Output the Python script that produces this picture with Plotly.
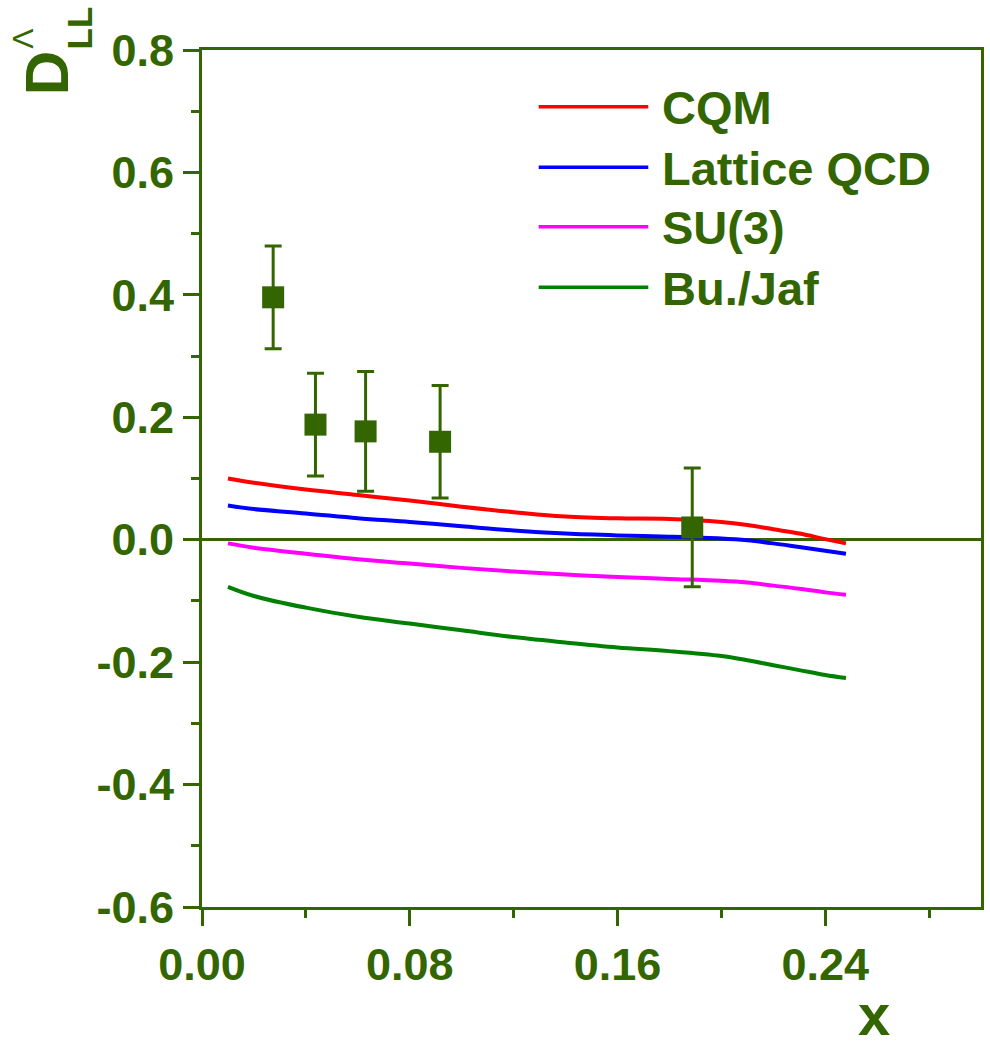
import plotly.graph_objects as go

# ---------------- data ----------------
series_names = ["CQM", "Lattice QCD", "SU(3)", "Bu./Jaf"]
series_colors = ["#FF0000", "#0000FF", "#FF00FF", "#008000"]

x_curve = [0.01, 0.02, 0.04, 0.06, 0.08, 0.10, 0.12, 0.14, 0.16, 0.18,
           0.20, 0.21, 0.22, 0.23, 0.24, 0.248]
cqm = [0.100, 0.093, 0.082, 0.073, 0.064, 0.054, 0.045, 0.038, 0.035, 0.034,
       0.029, 0.024, 0.017, 0.010, 0.001, -0.006]
lattice = [0.056, 0.050, 0.043, 0.035, 0.029, 0.022, 0.015, 0.010, 0.007, 0.005,
           0.002, -0.001, -0.006, -0.012, -0.018, -0.023]
su3 = [-0.006, -0.013, -0.023, -0.032, -0.039, -0.046, -0.052, -0.057, -0.061, -0.064,
       -0.067, -0.070, -0.075, -0.080, -0.086, -0.090]
bujaf = [-0.077, -0.092, -0.111, -0.126, -0.137, -0.148, -0.159, -0.168, -0.176, -0.182,
         -0.190, -0.197, -0.205, -0.213, -0.221, -0.226]
curves = [cqm, lattice, su3, bujaf]

x_data = [0.0274, 0.0437, 0.063, 0.0917, 0.1888]
y_data = [0.396, 0.188, 0.177, 0.160, 0.020]
y_err = [0.084, 0.084, 0.098, 0.092, 0.097]

x_tickvals = [0.00, 0.08, 0.16, 0.24]
x_ticktext = ["0.00", "0.08", "0.16", "0.24"]
y_tickvals = [-0.6, -0.4, -0.2, 0.0, 0.2, 0.4, 0.6, 0.8]
y_ticktext = ["-0.6", "-0.4", "-0.2", "0.0", "0.2", "0.4", "0.6", "0.8"]

# ---------------- style ----------------
DG = "#336600"
FONT = "Liberation Sans, Arial, sans-serif"
W, H = 990, 1046
L, R, T, B = 202, 6, 50, 139
PW, PH = W - L - R, H - T - B


def px(xp):
    return (xp - L) / PW


def py(yp):
    return (H - B - yp) / PH


fig = go.Figure()

for name, col, yv in zip(series_names, series_colors, curves):
    fig.add_trace(go.Scatter(x=x_curve, y=yv, mode="lines", name=name,
                             line=dict(color=col, width=4, shape="spline"),
                             showlegend=False))

fig.add_trace(go.Scatter(
    x=x_data, y=y_data, mode="markers", showlegend=False,
    marker=dict(symbol="square", size=22, color=DG, line=dict(width=0)),
    error_y=dict(type="data", array=y_err, visible=True, color=DG,
                 thickness=3, width=8.5)))

# manual legend
leg_y = [106.7, 167.3, 226.7, 287.3]
for name, col, yy in zip(series_names, series_colors, leg_y):
    fig.add_shape(type="line", xref="paper", yref="paper",
                  x0=px(540), x1=px(650), y0=py(yy), y1=py(yy),
                  line=dict(color=col, width=3.5))
    fig.add_annotation(xref="paper", yref="paper", x=px(662), y=py(yy + 1),
                       text=name, showarrow=False, xanchor="left", yanchor="middle",
                       font=dict(family=FONT, size=47, color=DG, weight="bold"))

# axis titles
fig.add_annotation(xref="paper", yref="paper", x=px(877), y=py(1014),
                   text="x", showarrow=False, xanchor="center", yanchor="middle",
                   font=dict(family=FONT, size=58, color=DG, weight="bold"))
fig.add_annotation(xref="paper", yref="paper", x=px(46), y=py(73),
                   text="D", showarrow=False, textangle=-90,
                   xanchor="center", yanchor="middle",
                   font=dict(family=FONT, size=62, color=DG, weight="bold"))
fig.add_annotation(xref="paper", yref="paper", x=px(22), y=py(39),
                   text="Λ", showarrow=False, textangle=-90,
                   xanchor="center", yanchor="middle",
                   font=dict(family=FONT, size=30, color=DG))
fig.add_annotation(xref="paper", yref="paper", x=px(80), y=py(28),
                   text="LL", showarrow=False, textangle=-90,
                   xanchor="center", yanchor="middle",
                   font=dict(family=FONT, size=35, color=DG, weight="bold"))

axis_common = dict(showgrid=False, showline=True, linecolor=DG, linewidth=3,
                   mirror=True, ticks="outside", ticklen=16, tickwidth=2.5,
                   tickcolor=DG,
                   tickfont=dict(family=FONT, size=45, color=DG, weight="bold"))

fig.update_xaxes(range=[0, 0.30], tickvals=x_tickvals, ticktext=x_ticktext,
                 zeroline=False,
                 minor=dict(ticks="outside", ticklen=8, tickwidth=2.5,
                            tickcolor=DG, dtick=0.04, tick0=0.04),
                 **axis_common)
fig.update_yaxes(range=[-0.6, 0.8], tickvals=y_tickvals, ticktext=y_ticktext,
                 zeroline=True, zerolinecolor=DG, zerolinewidth=3,
                 minor=dict(ticks="outside", ticklen=8, tickwidth=2.5,
                            tickcolor=DG, dtick=0.1, tick0=0.1),
                 **axis_common)

fig.update_layout(width=W, height=H, margin=dict(l=L, r=R, t=T, b=B),
                  plot_bgcolor="white", paper_bgcolor="white",
                  font=dict(family=FONT, color=DG), showlegend=False)

fig.write_html("out.html")
